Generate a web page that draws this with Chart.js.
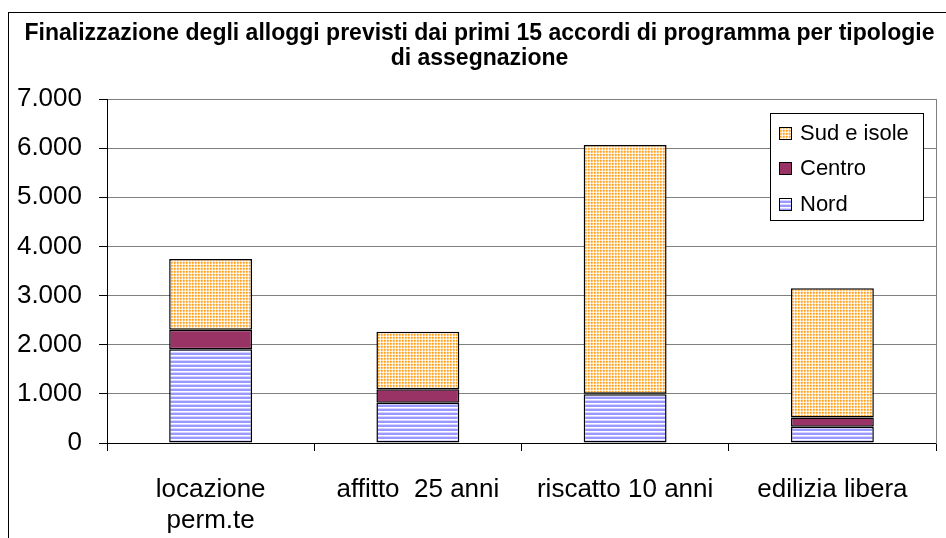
<!DOCTYPE html>
<html>
<head>
<meta charset="utf-8">
<script src="https://cdn.jsdelivr.net/npm/chart.js@4.4.0/dist/chart.umd.min.js"></script>
<style>
    body { margin: 0; background: #fff; overflow: hidden; }
    #cornice {
        position: absolute; left: 8px; top: 12px;
        width: 937px; height: 526px;
        border-left: 1px solid #000; border-top: 1px solid #000;
    }
    canvas { display: block; }
</style>
</head>
<body>
<div id="cornice"><canvas id="graficoAlloggi" width="937" height="525"></canvas></div>
<script>
// ---- dati

const categorie = [['locazione', 'perm.te'], 'affitto  25 anni', 'riscatto 10 anni', 'edilizia libera'];
const nord = [1910, 820, 990, 330];
const centro = [395, 275, 10, 190];
const sudIsole = [1440, 1170, 5065, 2630];
const etichetteY = ['0', '1.000', '2.000', '3.000', '4.000', '5.000', '6.000', '7.000'];
const titolo = [
    'Finalizzazione degli alloggi previsti dai primi 15 accordi di programma per tipologie',
    'di assegnazione'
];

Chart.defaults.font.family = 'Arial, "Liberation Sans", sans-serif';
Chart.defaults.color = '#000';

const ctx = document.getElementById('graficoAlloggi').getContext('2d');

// crea una trama a partire da una piccola griglia di colori
function creaTrama(righe) {
    const c = document.createElement('canvas');
    c.width = righe[0].length;
    c.height = righe.length;
    const g = c.getContext('2d');
    righe.forEach((riga, y) => riga.forEach((col, x) => {
        g.fillStyle = col;
        g.fillRect(x, y, 1, 1);
    }));
    return ctx.createPattern(c, 'repeat');
}

const tramaNord = creaTrama([
    ['#9999ff'], ['#9999ff'], ['#ffffff'], ['#d6d6ff']
]);
const tramaSud = creaTrama([
    ['#ffa020', '#ffb64a', '#ffe4bd'],
    ['#ffb64a', '#ffcd85', '#fff0dc'],
    ['#ffe4bd', '#fff0dc', '#ffffff']
]);

// legenda disegnata dentro l'area del grafico, in alto a destra
const legendaInterna = {
    id: 'legendaInterna',
    afterDraw(chart) {
        const c = chart.ctx, area = chart.chartArea;
        const larg = 153, alt = 107;
        const x0 = Math.round(area.right - 13 - larg), y0 = Math.round(area.top + 14);
        c.save();
        c.fillStyle = '#fff';
        c.fillRect(x0, y0, larg, alt);
        c.strokeStyle = '#000';
        c.lineWidth = 1;
        c.strokeRect(x0 + 0.5, y0 + 0.5, larg, alt);
        c.font = '22px Arial, "Liberation Sans", sans-serif';
        c.textBaseline = 'middle';
        chart.data.datasets.slice().reverse().forEach((ds, i) => {
            const yc = Math.round(y0 + 20 + i * 35.3);
            c.fillStyle = ds.backgroundColor;
            c.fillRect(x0 + 9, yc - 6, 13, 13);
            c.strokeRect(x0 + 9.5, yc - 5.5, 12, 12);
            c.fillStyle = '#000';
            c.fillText(ds.label, x0 + 30, yc + 1);
        });
        c.restore();
    }
};

new Chart(ctx, {
    type: 'bar',
    data: {
        labels: categorie,
        datasets: [
            { label: 'Nord', data: nord, backgroundColor: tramaNord },
            { label: 'Centro', data: centro, backgroundColor: '#993366' },
            { label: 'Sud e isole', data: sudIsole, backgroundColor: tramaSud }
        ]
    },
    options: {
        responsive: false,
        animation: false,
        layout: { padding: { left: 6, right: 2, top: 0, bottom: 0 } },
        datasets: {
            bar: {
                borderColor: '#000',
                borderWidth: 1.5,
                borderSkipped: false,
                barPercentage: 0.4,
                categoryPercentage: 1
            }
        },
        plugins: {
            legend: { display: false },
            tooltip: { enabled: false },
            title: {
                display: true,
                text: titolo,
                color: '#000',
                font: { size: 23, weight: 'bold', lineHeight: 1.087 },
                padding: { top: 8, bottom: 28 }
            }
        },
        scales: {
            x: {
                stacked: true,
                offset: true,
                grid: { drawOnChartArea: false, offset: true, tickLength: 8, color: '#000' },
                border: { color: '#000' },
                ticks: { font: { size: 26 }, padding: 23, maxRotation: 0, autoSkip: false },
                afterFit: s => { s.height = 95; }
            },
            y: {
                stacked: true,
                min: 0,
                max: 7000,
                grid: {
                    color: c => (c.tick && c.tick.value === 0 ? '#000' : '#808080'),
                    tickColor: '#000',
                    tickLength: 8
                },
                border: { color: '#000' },
                ticks: {
                    stepSize: 1000,
                    font: { size: 26 },
                    padding: 17,
                    callback: (v, i) => etichetteY[i]
                },
                afterFit: s => { s.width = 92; }
            },
            y2: {
                position: 'right',
                min: 0,
                max: 7000,
                grid: { display: false },
                ticks: { display: false },
                border: { color: '#808080' },
                afterFit: s => { s.width = 8; }
            }
        }
    },
    plugins: [legendaInterna]
});
</script>
</body>
</html>
